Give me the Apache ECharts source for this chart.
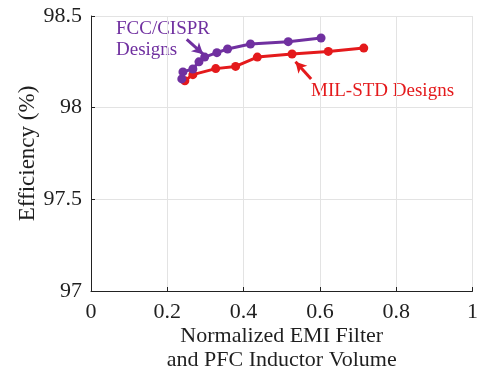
<!DOCTYPE html>
<html>
<head>
<meta charset="utf-8">
<script src="https://cdn.jsdelivr.net/npm/echarts@6/dist/echarts.min.js"></script>
<style>html,body{margin:0;padding:0;background:#fff}#c{width:481px;height:382px}</style>
</head>
<body>
<div id="c"></div>
<script>
// Data
const fccX = [0.238, 0.241, 0.267, 0.283, 0.298, 0.330, 0.358, 0.418, 0.517, 0.603];
const fccY = [98.157, 98.195, 98.211, 98.250, 98.276, 98.300, 98.320, 98.347, 98.360, 98.380];
const milX = [0.246, 0.267, 0.327, 0.379, 0.436, 0.527, 0.622, 0.715];
const milY = [98.147, 98.180, 98.213, 98.225, 98.276, 98.293, 98.307, 98.325];
const xTicks = [0, 0.2, 0.4, 0.6, 0.8, 1];
const yTicks = [97, 97.5, 98, 98.5];

const PURPLE = '#7030A0';
const RED = '#E41A1C';
const FONT = 'Liberation Serif';
const TXT = '#1f1f1f';

const pair = (xs, ys) => xs.map((x, i) => [x, ys[i]]);

const chart = echarts.init(document.getElementById('c'), null, {renderer: 'canvas'});
chart.setOption({
  animation: false,
  backgroundColor: '#fff',
  grid: {left: 91, right: 7, top: 16, bottom: 91, containLabel: false},
  xAxis: {
    type: 'value', min: 0, max: 1, interval: 0.2,
    axisLine: {show: true, onZero: false, lineStyle: {color: '#222', width: 1}},
    axisTick: {show: true, inside: true, length: 4, lineStyle: {color: '#222'}},
    splitLine: {show: true, lineStyle: {color: '#e3e3e3', width: 1}},
    axisLabel: {fontFamily: FONT, fontSize: 22, color: TXT, margin: 10,
      formatter: v => xTicks.includes(Math.round(v*10)/10) ? String(Math.round(v*10)/10) : ''},
    name: 'Normalized EMI Filter\nand PFC Inductor Volume',
    nameLocation: 'middle', nameGap: 33, nameMoveOverlap: false,
    nameTextStyle: {fontFamily: FONT, fontSize: 22, color: TXT, lineHeight: 24}
  },
  yAxis: {
    type: 'value', min: 97, max: 98.5, interval: 0.5,
    axisLine: {show: true, onZero: false, lineStyle: {color: '#222', width: 1}},
    axisTick: {show: true, inside: true, length: 4, lineStyle: {color: '#222'}},
    splitLine: {show: true, lineStyle: {color: '#e3e3e3', width: 1}},
    axisLabel: {fontFamily: FONT, fontSize: 22, color: TXT, margin: 9,
      formatter: v => yTicks.includes(v) ? String(v) : ''},
    name: 'Efficiency (%)',
    nameLocation: 'middle', nameGap: 52, nameMoveOverlap: false,
    nameTextStyle: {fontFamily: FONT, fontSize: 23, color: TXT}
  },
  series: [
    {
      type: 'line', data: pair(milX, milY), color: RED,
      lineStyle: {width: 3, color: RED}, itemStyle: {color: RED},
      symbol: 'circle', symbolSize: 9, z: 2,
      markLine: {
        silent: true, symbol: ['none', 'arrow'], symbolSize: [9, 11],
        label: {show: false},
        lineStyle: {color: RED, width: 3, type: 'solid'},
        data: [[{coord: [0.577, 98.157]}, {coord: [0.536, 98.251]}]]
      }
    },
    {
      type: 'line', data: pair(fccX, fccY), color: PURPLE,
      lineStyle: {width: 3, color: PURPLE}, itemStyle: {color: PURPLE},
      symbol: 'circle', symbolSize: 9, z: 3,
      markLine: {
        silent: true, symbol: ['none', 'arrow'], symbolSize: [9, 11],
        label: {show: false},
        lineStyle: {color: PURPLE, width: 3, type: 'solid'},
        data: [[{coord: [0.251, 98.372]}, {coord: [0.294, 98.292]}]]
      }
    }
  ],
  graphic: [
    {type: 'text', left: 116, top: 19, style: {text: 'FCC/CISPR\nDesigns', fill: PURPLE, font: '19px "Liberation Serif"', lineHeight: 21}},
    {type: 'text', left: 311, top: 82, style: {text: 'MIL-STD Designs', fill: RED, font: '19px "Liberation Serif"'}}
  ]
});
</script>
</body>
</html>
